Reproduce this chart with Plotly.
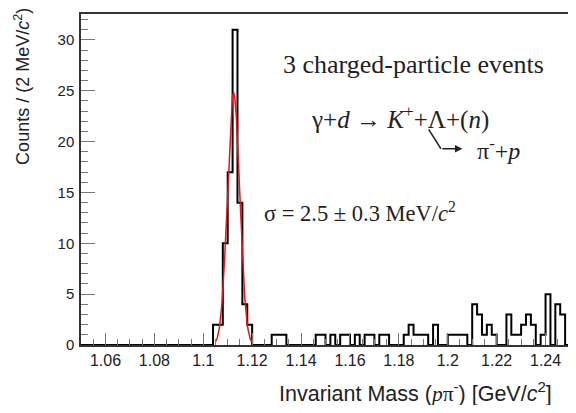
import numpy as np
import plotly.graph_objects as go

# histogram: 2 MeV bins from 1.05 to 1.25 GeV
bin_lo = 1.05
bin_width = 0.002
counts = [
    0, 0, 0, 0, 0, 0, 0, 0, 0, 0,      # 1.050 - 1.068
    0, 0, 0, 0, 0, 0, 0, 0, 0, 0,      # 1.070 - 1.088
    0, 0, 0, 0, 0, 0, 0, 2, 2, 10,     # 1.090 - 1.108
    17, 31, 14, 4, 2, 0, 0, 0, 0, 1,   # 1.110 - 1.128
    1, 1, 0, 0, 0, 0, 0, 0, 1, 1,      # 1.130 - 1.148
    0, 1, 0, 1, 1, 0, 1, 0, 1, 1,      # 1.150 - 1.168
    0, 1, 1, 0, 0, 0, 1, 2, 1, 1,      # 1.170 - 1.188
    1, 0, 2, 0, 0, 1, 1, 1, 1, 0,      # 1.190 - 1.208
    4, 3, 1, 2, 1, 0, 0, 3, 1, 1,      # 1.210 - 1.228
    2, 3, 2, 0, 1, 5, 0, 4, 3, 0,      # 1.230 - 1.248
]

# gaussian fit
fit_amp = 24.8
fit_mean = 1.1124
fit_sigma = 0.0025
fit_range = [1.105, 1.120]

edges = bin_lo + bin_width * np.arange(len(counts) + 1)
xf = np.linspace(fit_range[0], fit_range[1], 200)
yf = fit_amp * np.exp(-0.5 * ((xf - fit_mean) / fit_sigma) ** 2)

fig = go.Figure()
fig.add_trace(go.Scatter(x=edges, y=counts + [counts[-1]], mode='lines',
                         line=dict(shape='hv', color='black', width=2)))
fig.add_trace(go.Scatter(x=xf, y=yf, mode='lines',
                         line=dict(color='#e3161d', width=1.5)))

serif = "Liberation Serif"
sans = "Liberation Sans"

# page body has an 8px margin, so the figure is a bit smaller than the window
fig.update_layout(
    width=568, height=397,
    margin=dict(l=73, r=4, t=5, b=60),
    paper_bgcolor='white', plot_bgcolor='white',
    showlegend=False,
    font=dict(family=sans, size=15, color='#222'),
    xaxis=dict(range=[1.05, 1.25], tick0=1.06, dtick=0.02,
               ticks='inside', ticklen=12, tickcolor='#777', tickwidth=1,
               minor=dict(dtick=0.005, tick0=1.05, ticks='inside', ticklen=6,
                          tickcolor='#777'),
               tickfont=dict(size=16),
               showline=True, linecolor='#333', linewidth=1.5, mirror=True,
               showgrid=False, zeroline=False),
    yaxis=dict(range=[0, 32.55], tick0=0, dtick=5,
               ticks='inside', ticklen=14, tickcolor='#777', tickwidth=1,
               minor=dict(dtick=1, ticks='inside', ticklen=7, tickcolor='#777'),
               ticklabelstandoff=2,
               showline=True, linecolor='#333', linewidth=1.5, mirror=True,
               showgrid=False, zeroline=False),
)

def note(text, x, y, size, family=serif, **kw):
    fig.add_annotation(text=text, xref='paper', yref='paper', x=x, y=y,
                       showarrow=False, font=dict(family=family, size=size, color='#222'),
                       **kw)

note('Counts / (2 MeV/<i>c</i><sup>2</sup>)', -0.12, 1.024, 18, sans,
     textangle=-90, xanchor='center', yanchor='top')
note('Invariant Mass (<span style="font-family:Liberation Serif"><i>p</i>π</span><sup>-</sup>) [GeV/<i>c</i><sup>2</sup>]',
     0.401, -0.1416, 21.5, sans, xanchor='left', yanchor='middle')

note('3 charged-particle events', 0.680, 0.846, 26, xanchor='center', yanchor='middle')
note('γ+<i>d</i> → <i>K</i><sup>+</sup>+Λ+(<i>n</i>)', 0.653, 0.687, 25,
     xanchor='center', yanchor='middle')
note('π<sup>-</sup>+<i>p</i>', 0.853, 0.592, 24, xanchor='center', yanchor='middle')
note('σ = 2.5 ± 0.3 MeV/<i>c</i><sup>2</sup>', 0.570, 0.4006, 22.5,
     xanchor='center', yanchor='middle')

# bent decay arrow
fig.add_shape(type='line', xref='x', yref='y', x0=1.1922, y0=21.2,
              x1=1.1972, y1=19.3, line=dict(color='#222', width=1.5))
fig.add_annotation(x=1.2060, y=19.3, ax=1.1972, ay=19.3, xref='x', yref='y',
                   axref='x', ayref='y', text='', showarrow=True,
                   arrowhead=2, arrowsize=1, arrowwidth=1.5, arrowcolor='#222')

fig.write_html("out.html")
